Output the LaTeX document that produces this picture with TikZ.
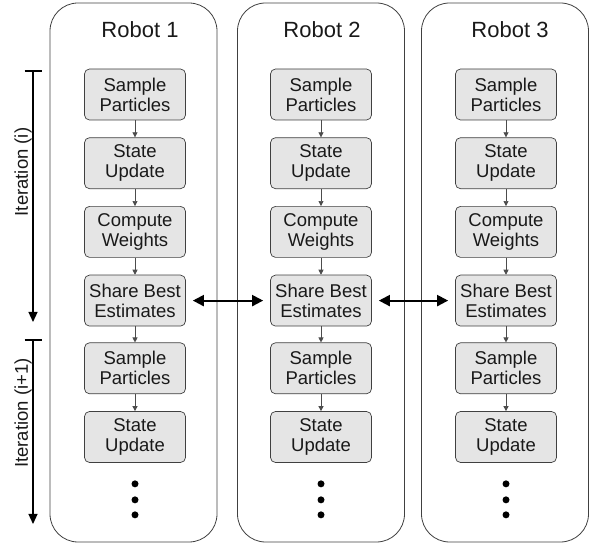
\documentclass[tikz,border=0pt]{standalone}
\usepackage{fontspec}
\setmainfont{Liberation Sans}
\usetikzlibrary{positioning,arrows.meta}

\tikzset{
  robot/.style={draw=black!75, line width=0.8pt, rounded corners=28pt,
    minimum width=167pt, minimum height=539pt},
  stepbox/.style={draw=black!75, fill=black!10, line width=0.7pt,
    rounded corners=5pt, minimum width=101pt, minimum height=51pt,
    inner sep=0pt, align=center, text=black!90,
    font=\fontsize{18.5}{20}\selectfont},
  flow/.style={-{Triangle[length=5pt,width=5pt]}, draw=black!70, line width=0.7pt},
  share/.style={{Triangle[length=11pt,width=11pt]}-{Triangle[length=11pt,width=11pt]},
    line width=2pt, shorten <=7pt, shorten >=7pt},
  vdot/.style={circle, fill=black, inner sep=0pt, minimum size=7pt},
  iter/.style={line width=1.2pt},
}

\begin{document}
\begin{tikzpicture}[x=1pt,y=1pt]
    \useasboundingbox (0,0) rectangle (592,546);
    % One column per robot
    \foreach \bx/\rx/\tx/\n in {135/133.5/140/1, 321/321/322/2, 506/505/510/3} {
        \node[robot] (robot\n) at (\rx,273.5) {};
        \node[font=\fontsize{22}{24}\selectfont, text=black!90] (title\n) at (\tx,516) {Robot \n};
        \node[stepbox] (sa\n) at (\bx,451.5) {Sample\\Particles};
        \node[stepbox, below=17pt of sa\n] (su\n) {State\\Update};
        \node[stepbox, below=17pt of su\n] (cw\n) {Compute\\Weights};
        \node[stepbox, below=17pt of cw\n] (sh\n) {Share Best\\Estimates};
        \node[stepbox, below=16pt of sh\n] (sb\n) {Sample\\Particles};
        \node[stepbox, below=17pt of sb\n] (sc\n) {State\\Update};
        % steps of the filter
        \draw[flow] (sa\n) -- (su\n);
        \draw[flow] (su\n) -- (cw\n);
        \draw[flow] (cw\n) -- (sh\n);
        \draw[flow] (sh\n) -- (sb\n);
        \draw[flow] (sb\n) -- (sc\n);
        % more iterations follow
        \node[vdot] (dta\n) at ([yshift=-21pt]sc\n.south) {};
        \node[vdot] (dtb\n) at ([yshift=-37pt]sc\n.south) {};
        \node[vdot] (dtc\n) at ([yshift=-52pt]sc\n.south) {};
    }
    % Exchange of estimates between neighbours
    \draw[share] (sh1) -- (sh2);
    \draw[share] (sh2) -- (sh3);
    % Iteration axis
    \coordinate (itA) at (33,475);
    \coordinate (itB) at (33,224);
    \coordinate (itC) at (33,206);
    \coordinate (itD) at (33,22);
    \draw[iter] ([xshift=-8.5pt]itA) -- ([xshift=8.5pt]itA);
    \draw[iter, -{Triangle[length=10pt,width=9pt]}] (itA) -- (itB);
    \draw[iter] ([xshift=-8.5pt]itC) -- ([xshift=8.5pt]itC);
    \draw[iter, -{Triangle[length=10pt,width=9pt]}] (itC) -- (itD);
    \node[rotate=90, font=\fontsize{18.5}{20}\selectfont, text=black!90] (iti) at (23,374) {Iteration (i)};
    \node[rotate=90, font=\fontsize{18.5}{20}\selectfont, text=black!90] (itj) at (23,133) {Iteration (i+1)};
\end{tikzpicture}
\end{document}
